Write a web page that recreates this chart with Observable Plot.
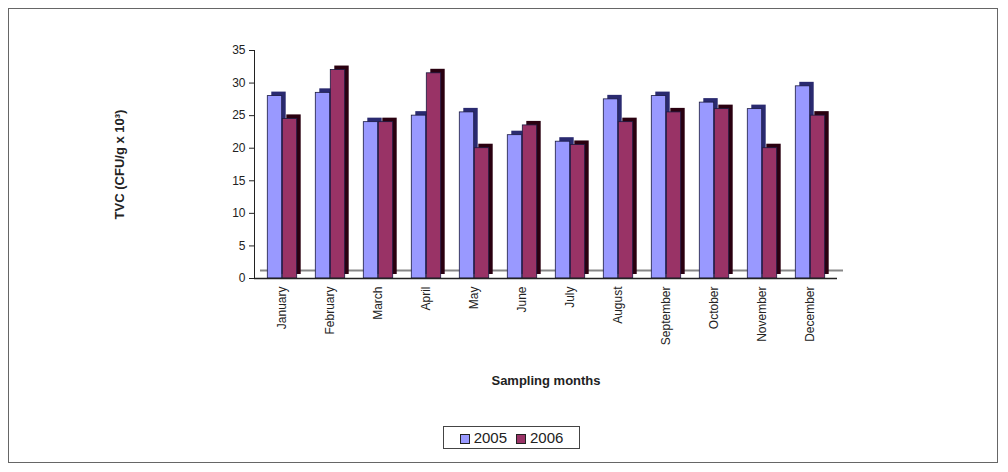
<!DOCTYPE html>
<html>
<head>
<meta charset="utf-8">
<script src="https://cdn.jsdelivr.net/npm/d3@7"></script>
<script src="https://cdn.jsdelivr.net/npm/@observablehq/plot@0.6"></script>
<style>
  body { margin: 0; background: #fff; font-family: "Liberation Sans", Arial, sans-serif; }
  #frame { position: absolute; left: 8px; top: 8px; width: 990px; height: 455px; border: 1px solid #666; box-sizing: border-box; }
  #chart { position: absolute; left: 0; top: 0; }
  #legend { position: absolute; left: 443px; top: 426px; width: 137px; box-sizing: border-box; border: 1.5px solid #444; padding: 2px 5px; font-size: 15px; display: flex; justify-content: center; gap: 9px; align-items: center; color: #222; }
  #legend span.sw { display: inline-block; width: 8px; height: 8px; border: 1px solid #222; margin-right: 4px; vertical-align: middle; }
</style>
</head>
<body>
<div id="frame"></div>
<div id="chart"></div>
<div id="legend"></div>
<script>
const months = ["January","February","March","April","May","June","July","August","September","October","November","December"];
const years = ["2005", "2006"];
const values2005 = [28, 28.5, 24, 25, 25.5, 22, 21, 27.5, 28, 27, 26, 29.5];
const values2006 = [24.5, 32, 24, 31.5, 20, 23.5, 20.5, 24, 25.5, 26, 20, 25];
const yTicks = [0, 5, 10, 15, 20, 25, 30, 35];
const yTitle = "TVC (CFU/g x 10³)";
const xTitle = "Sampling months";
const fronts = ["#9999ff", "#993366"];
const sides = ["#2a2a70", "#2a0010"];

const rows = [];
months.forEach((m, i) => {
  rows.push({month: m, year: years[0], value: values2005[i]});
  rows.push({month: m, year: years[1], value: values2006[i]});
});
const r05 = rows.filter(d => d.year === years[0]);
const r06 = rows.filter(d => d.year === years[1]);

const inset = 16.8;
function barLayer(data, k, dx) {
  return [
    Plot.barY(data, {x: "month", y: "value", fill: sides[k], insetLeft: inset, insetRight: inset, dx: dx + 4, dy: -4}),
    Plot.barY(data, {x: "month", y: "value", fill: fronts[k], stroke: "#1a1a40", strokeWidth: 0.8, insetLeft: inset, insetRight: inset, dx: dx})
  ];
}

const chart = Plot.plot({
  width: 1008,
  height: 410,
  marginLeft: 254,
  marginRight: 171,
  marginTop: 50,
  marginBottom: 132,
  style: {fontFamily: "'Liberation Sans', Arial, sans-serif", fontSize: "12px", color: "#222", background: "transparent"},
  x: {domain: months, padding: 0, label: xTitle, labelAnchor: "center", labelOffset: 106, tickRotate: -90, tickSize: 0, tickPadding: 8},
  y: {domain: [0, 35], ticks: yTicks, label: yTitle, labelAnchor: "center", labelOffset: 140, tickSize: 5, line: true},
  marks: [
    Plot.ruleY([0], {stroke: "#888", strokeWidth: 2, dx: 6, dy: -8}),
    ...barLayer(r05, 0, -7.5),
    ...barLayer(r06, 1, 7.5),
    Plot.ruleY([0], {stroke: "#222", strokeWidth: 1.5})
  ]
});
document.getElementById("chart").append(chart);
d3.select(chart).selectAll("[aria-label='x-axis label'] text")
  .text(xTitle).style("font-weight", "bold").style("font-size", "13px");
d3.select(chart).selectAll("[aria-label='y-axis label'] text")
  .text(yTitle).style("font-weight", "bold").style("font-size", "13px");

const lg = document.getElementById("legend");
years.forEach((y, k) => {
  const s = document.createElement("span");
  s.innerHTML = `<span class="sw" style="background:${fronts[k]}"></span>${y}`;
  lg.append(s);
});
</script>
</body>
</html>
